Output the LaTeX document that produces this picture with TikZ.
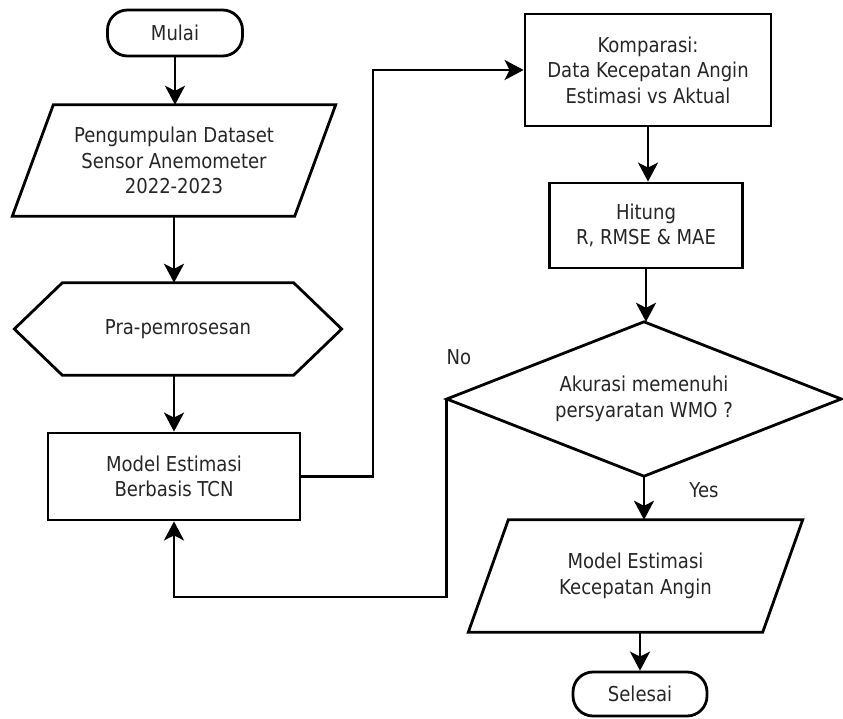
\documentclass[tikz,border=0pt]{standalone}
\usepackage{fontspec}
\setmainfont{DejaVu Sans}[FakeStretch=0.88]
\usetikzlibrary{arrows.meta,shapes.geometric,calc}
\definecolor{txtc}{HTML}{262626}
\begin{document}
\begin{tikzpicture}[x=1pt,y=-1pt,
  lw/.style={line width=2.8pt},
  txt/.style={font=\fontsize{20.5}{25.5}\selectfont, text=txtc, align=center},
  box/.style={txt, draw, lw, rectangle, inner sep=0pt},
  term/.style={box, rounded corners=20pt},
  frame/.style={txt, rectangle, inner sep=0pt},
  outline/.style={draw, lw},
  arr/.style={lw, -{Stealth[length=19pt,width=20pt,inset=5pt]}},
  lbl/.style={txt, inner sep=0pt}]
\useasboundingbox (0,0) rectangle (843,718);

% left column
\node[term, minimum width=135pt, minimum height=46pt] (mulai) at (175,33) {Mulai};
\node[frame, minimum width=323pt, minimum height=111pt] (p1) at (174,160.5)
  {Pengumpulan Dataset\\Sensor Anemometer\\2022-2023};
\draw[outline] ($(p1.north west)+(41,0)$) -- (p1.north east) -- ($(p1.south east)+(-41,0)$) -- (p1.south west) -- cycle;
\node[frame, minimum width=327pt, minimum height=92pt] (pre) at (178,329) {Pra-pemrosesan};
\draw[outline] ($(pre.north west)+(48,0)$) -- ($(pre.north east)+(-48,0)$) -- (pre.east)
  -- ($(pre.south east)+(-48,0)$) -- ($(pre.south west)+(48,0)$) -- (pre.west) -- cycle;
\node[box, minimum width=252pt, minimum height=87pt] (model) at (174,476.5) {Model Estimasi\\Berbasis TCN};

% right column
\node[box, minimum width=246pt, minimum height=112pt] (komp) at (648,70)
  {Komparasi:\\Data Kecepatan Angin\\Estimasi vs Aktual};
\node[box, minimum width=193pt, minimum height=85pt] (hit) at (646,225.5) {Hitung\\R, RMSE \& MAE};
\node[frame, minimum width=394pt, minimum height=154pt] (dia) at (644,399)
  {Akurasi memenuhi\\persyaratan WMO ?};
\draw[outline] (dia.north) -- (dia.east) -- (dia.south) -- (dia.west) -- cycle;
\node[frame, minimum width=334pt, minimum height=112pt] (par2) at (635.5,576)
  {Model Estimasi\\Kecepatan Angin};
\draw[outline] ($(par2.north west)+(40,0)$) -- (par2.north east) -- ($(par2.south east)+(-40,0)$) -- (par2.south west) -- cycle;
\node[term, minimum width=134pt, minimum height=44pt] (sel) at (640,694) {Selesai};

\coordinate (bend) at (373,70);
\coordinate (nob) at (174,597);

% connectors
\draw[arr] (mulai.south) -- (mulai.south |- p1.north);
\draw[arr] (p1.south) -- (p1.south |- pre.north);
\draw[arr] (model.north |- pre.south) -- (model.north);
\draw[arr] (model.east) -| (bend) -- (komp.west);
\draw[arr] (komp.south) -- (komp.south |- hit.north);
\draw[arr] (hit.south) -- (hit.south |- dia.north);
\draw[arr] (dia.south) -- (dia.south |- par2.north);
\draw[arr] (sel.north |- par2.south) -- (sel.north);
\draw[arr] (dia.west) |- (nob) -- (model.south);

\node[lbl] (no) at (459,357) {No};
\node[lbl] (yes) at (704,490) {Yes};
\end{tikzpicture}
\end{document}
